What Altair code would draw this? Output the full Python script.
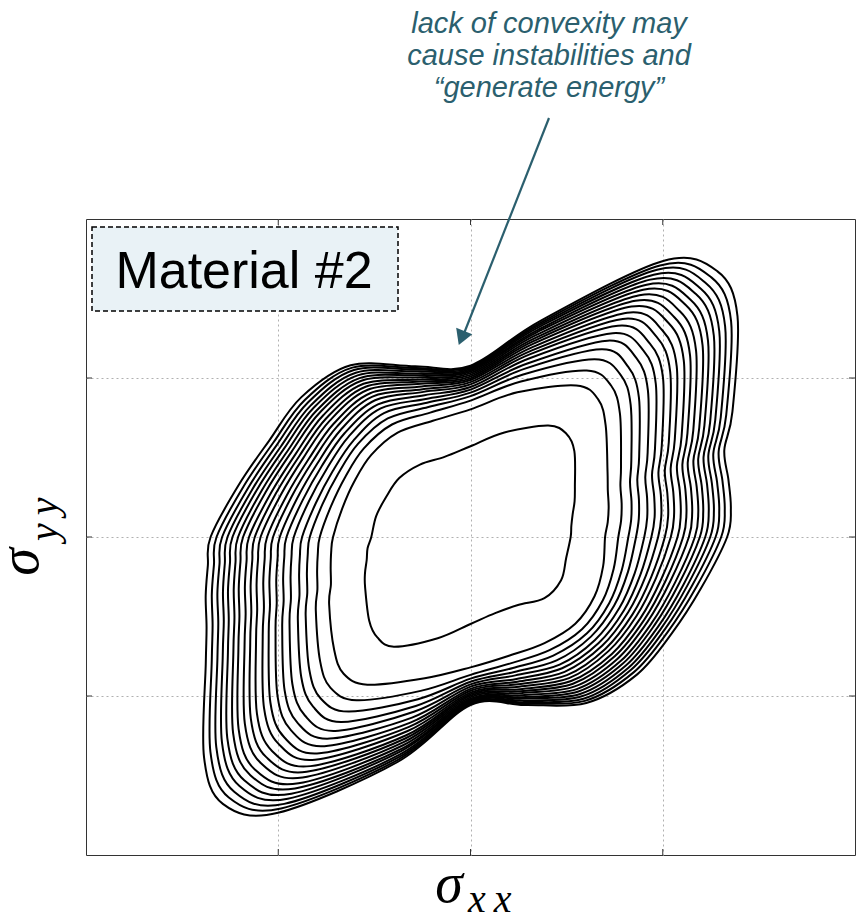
import math
import altair as alt
import pandas as pd

# Directions (degrees, in sigma_xx / sigma_yy space) along which the yield contours were sampled
ANGLES = [0, 7.5, 15, 22.5, 30, 45, 52.5, 60, 75, 90, 105, 120, 135, 150, 165,
          180, 187.5, 195, 202.5, 210, 225, 232.5, 240, 255, 270, 285, 300, 315, 330, 345]

# Radius of each of the 20 contour levels (innermost -> outermost) along each direction
R_0 = [0.521, 0.700, 0.769, 0.821, 0.861, 0.904, 0.941, 0.976, 1.011, 1.042, 1.077, 1.106, 1.136, 1.167, 1.193, 1.221, 1.247, 1.275, 1.304, 1.335]
R_7 = [0.529, 0.720, 0.790, 0.843, 0.883, 0.927, 0.966, 1.001, 1.037, 1.068, 1.103, 1.133, 1.163, 1.195, 1.221, 1.250, 1.277, 1.305, 1.334, 1.366]
R_15 = [0.550, 0.744, 0.814, 0.867, 0.907, 0.951, 0.989, 1.025, 1.060, 1.092, 1.127, 1.157, 1.187, 1.218, 1.245, 1.274, 1.300, 1.328, 1.357, 1.389]
R_22 = [0.586, 0.773, 0.844, 0.898, 0.939, 0.984, 1.022, 1.058, 1.094, 1.127, 1.162, 1.193, 1.223, 1.255, 1.282, 1.312, 1.339, 1.367, 1.397, 1.429]
R_30 = [0.627, 0.823, 0.904, 0.966, 1.013, 1.064, 1.108, 1.149, 1.191, 1.227, 1.268, 1.303, 1.338, 1.374, 1.405, 1.439, 1.470, 1.503, 1.536, 1.573]
R_45 = [0.764, 0.994, 1.099, 1.178, 1.239, 1.305, 1.363, 1.416, 1.469, 1.517, 1.569, 1.615, 1.659, 1.707, 1.747, 1.790, 1.830, 1.873, 1.917, 1.964]
R_52 = [0.819, 1.091, 1.201, 1.284, 1.348, 1.418, 1.478, 1.533, 1.589, 1.639, 1.694, 1.742, 1.789, 1.839, 1.880, 1.926, 1.968, 2.012, 2.058, 2.108]
R_60 = [0.809, 1.101, 1.209, 1.291, 1.363, 1.426, 1.480, 1.534, 1.584, 1.629, 1.674, 1.715, 1.756, 1.796, 1.832, 1.869, 1.905, 1.941, 1.972, 2.004]
R_75 = [0.681, 0.942, 1.012, 1.058, 1.096, 1.128, 1.161, 1.189, 1.212, 1.235, 1.258, 1.277, 1.295, 1.314, 1.333, 1.347, 1.365, 1.379, 1.393, 1.407]
R_90 = [0.571, 0.803, 0.858, 0.886, 0.908, 0.927, 0.943, 0.960, 0.974, 0.987, 0.998, 1.009, 1.020, 1.031, 1.040, 1.048, 1.056, 1.064, 1.071, 1.078]
R_105 = [0.522, 0.757, 0.810, 0.846, 0.874, 0.899, 0.923, 0.945, 0.962, 0.980, 0.998, 1.012, 1.026, 1.040, 1.054, 1.065, 1.079, 1.090, 1.100, 1.111]
R_120 = [0.526, 0.758, 0.817, 0.861, 0.900, 0.934, 0.963, 0.993, 1.020, 1.044, 1.069, 1.091, 1.113, 1.135, 1.154, 1.174, 1.193, 1.213, 1.230, 1.247]
R_135 = [0.524, 0.730, 0.786, 0.828, 0.860, 0.895, 0.925, 0.954, 0.982, 1.007, 1.035, 1.059, 1.083, 1.108, 1.129, 1.152, 1.173, 1.196, 1.219, 1.244]
R_150 = [0.506, 0.698, 0.753, 0.795, 0.828, 0.862, 0.893, 0.921, 0.949, 0.974, 1.002, 1.026, 1.049, 1.074, 1.095, 1.118, 1.139, 1.162, 1.185, 1.210]
R_165 = [0.508, 0.691, 0.751, 0.797, 0.832, 0.870, 0.903, 0.934, 0.965, 0.992, 1.022, 1.049, 1.074, 1.102, 1.125, 1.150, 1.173, 1.197, 1.223, 1.250]
R_180 = [0.516, 0.715, 0.784, 0.836, 0.876, 0.919, 0.957, 0.992, 1.027, 1.058, 1.092, 1.122, 1.152, 1.183, 1.209, 1.238, 1.264, 1.292, 1.321, 1.352]
R_187 = [0.540, 0.731, 0.801, 0.854, 0.895, 0.939, 0.977, 1.012, 1.048, 1.080, 1.115, 1.145, 1.175, 1.207, 1.233, 1.262, 1.289, 1.317, 1.346, 1.378]
R_195 = [0.559, 0.753, 0.826, 0.881, 0.923, 0.969, 1.009, 1.046, 1.083, 1.116, 1.152, 1.184, 1.215, 1.248, 1.275, 1.306, 1.333, 1.363, 1.393, 1.426]
R_202 = [0.594, 0.786, 0.862, 0.919, 0.963, 1.011, 1.052, 1.091, 1.129, 1.163, 1.201, 1.234, 1.266, 1.301, 1.329, 1.361, 1.389, 1.420, 1.452, 1.486]
R_210 = [0.633, 0.849, 0.929, 0.990, 1.037, 1.087, 1.131, 1.171, 1.212, 1.248, 1.288, 1.323, 1.357, 1.394, 1.424, 1.457, 1.488, 1.520, 1.554, 1.590]
R_225 = [0.745, 1.003, 1.106, 1.185, 1.245, 1.310, 1.367, 1.419, 1.472, 1.519, 1.571, 1.616, 1.660, 1.706, 1.746, 1.789, 1.828, 1.870, 1.913, 1.960]
R_232 = [0.796, 1.084, 1.196, 1.280, 1.345, 1.415, 1.476, 1.533, 1.590, 1.640, 1.696, 1.745, 1.792, 1.843, 1.885, 1.931, 1.974, 2.019, 2.065, 2.116]
R_240 = [0.797, 1.073, 1.185, 1.268, 1.343, 1.408, 1.464, 1.519, 1.571, 1.617, 1.664, 1.705, 1.747, 1.789, 1.826, 1.864, 1.901, 1.938, 1.971, 2.003]
R_255 = [0.659, 0.920, 1.002, 1.056, 1.100, 1.138, 1.176, 1.209, 1.236, 1.263, 1.291, 1.312, 1.334, 1.356, 1.378, 1.394, 1.416, 1.432, 1.449, 1.465]
R_270 = [0.547, 0.820, 0.867, 0.891, 0.910, 0.927, 0.941, 0.955, 0.967, 0.979, 0.988, 0.998, 1.007, 1.017, 1.024, 1.031, 1.038, 1.045, 1.051, 1.057]
R_285 = [0.496, 0.773, 0.821, 0.853, 0.879, 0.901, 0.924, 0.943, 0.959, 0.975, 0.991, 1.004, 1.017, 1.030, 1.043, 1.052, 1.065, 1.075, 1.084, 1.094]
R_300 = [0.494, 0.770, 0.822, 0.861, 0.896, 0.927, 0.953, 0.979, 1.003, 1.025, 1.046, 1.066, 1.085, 1.105, 1.122, 1.140, 1.157, 1.175, 1.190, 1.205]
R_315 = [0.544, 0.771, 0.820, 0.857, 0.886, 0.916, 0.943, 0.968, 0.993, 1.015, 1.040, 1.061, 1.082, 1.104, 1.123, 1.143, 1.162, 1.181, 1.202, 1.224]
R_330 = [0.544, 0.745, 0.795, 0.833, 0.863, 0.894, 0.922, 0.947, 0.973, 0.996, 1.021, 1.043, 1.064, 1.087, 1.106, 1.127, 1.146, 1.166, 1.187, 1.210]
R_345 = [0.515, 0.714, 0.771, 0.814, 0.848, 0.884, 0.915, 0.944, 0.973, 0.999, 1.027, 1.052, 1.076, 1.102, 1.124, 1.148, 1.169, 1.192, 1.216, 1.242]

RADII = [R_0, R_7, R_15, R_22, R_30, R_45, R_52, R_60, R_75, R_90, R_105, R_120, R_135, R_150, R_165,
         R_180, R_187, R_195, R_202, R_210, R_225, R_232, R_240, R_255, R_270, R_285, R_300, R_315, R_330, R_345]

GRID = [-1, 0, 1]
NOTE = ["lack of convexity may", "cause instabilities and", "\u201cgenerate energy\u201d"]
LABEL = "Material #2"
TEAL = "#2b5f6e"

rows = []
for seq, (ang, radii) in enumerate(zip(ANGLES, RADII)):
    a = math.radians(ang)
    for level, r in enumerate(radii):
        rows.append({"level": level, "seq": seq, "sxx": r * math.cos(a), "syy": r * math.sin(a)})
df = pd.DataFrame(rows)
ticks = pd.DataFrame({"t": GRID})

xs = alt.Scale(domain=[-2, 2], nice=False, zero=False)
ys = alt.Scale(domain=[-2, 2], nice=False, zero=False)


def grid_axis():
    return alt.Axis(values=GRID, grid=True, gridDash=[2, 3], gridColor="#b0b0b0", gridWidth=1,
                    labels=False, ticks=False, domain=False, title=None)


contours = alt.Chart(df).mark_line(interpolate="cardinal-closed", color="black", strokeWidth=2).encode(
    x=alt.X("sxx:Q", scale=xs, axis=grid_axis()),
    y=alt.Y("syy:Q", scale=ys, axis=grid_axis()),
    detail="level:N",
    order="seq:Q",
)

# inward tick marks on all four sides of the frame
tick_style = dict(color="#333333", strokeWidth=1)
t_bottom = alt.Chart(ticks).mark_rule(**tick_style).encode(x=alt.X("t:Q", scale=xs), y=alt.value(636), y2=alt.value(630))
t_top = alt.Chart(ticks).mark_rule(**tick_style).encode(x=alt.X("t:Q", scale=xs), y=alt.value(0), y2=alt.value(6))
t_left = alt.Chart(ticks).mark_rule(**tick_style).encode(y=alt.Y("t:Q", scale=ys), x=alt.value(0), x2=alt.value(6))
t_right = alt.Chart(ticks).mark_rule(**tick_style).encode(y=alt.Y("t:Q", scale=ys), x=alt.value(769), x2=alt.value(763))

one = pd.DataFrame({"a": [0]})
box = alt.Chart(one).mark_rect(fill="#e9f2f6", stroke="black", strokeDash=[5, 3], strokeWidth=1.5).encode(
    x=alt.value(6), x2=alt.value(312), y=alt.value(8), y2=alt.value(92))
box_text = alt.Chart(one).mark_text(text=LABEL, font="Liberation Sans", fontSize=52,
                                    align="center", baseline="alphabetic", color="black").encode(
    x=alt.value(158), y=alt.value(69))

note = alt.Chart(one).mark_text(text=NOTE, font="Liberation Sans", fontStyle="italic", fontSize=29,
                                lineHeight=32, align="center", baseline="alphabetic", color=TEAL).encode(
    x=alt.value(463), y=alt.value(33 - 219))
arrow = alt.Chart(one).mark_rule(color=TEAL, strokeWidth=2.2).encode(
    x=alt.value(463), y=alt.value(118 - 219), x2=alt.value(377), y2=alt.value(336 - 219))
head = alt.Chart(one).mark_point(shape="triangle-up", filled=True, color=TEAL, size=300, angle=201.4,
                                 opacity=1).encode(x=alt.value(375.5), y=alt.value(338 - 219))

serif = dict(font="Liberation Serif", fontStyle="italic", color="black", baseline="alphabetic")
sx = alt.Chart(one).mark_text(text="\u03c3", fontSize=56, align="center", **serif).encode(
    x=alt.value(449 - 86), y=alt.value(902 - 219))
sx_sub = alt.Chart(one).mark_text(text="x\u2009x", fontSize=40, align="left", **serif).encode(
    x=alt.value(468 - 86), y=alt.value(912 - 219))
sy = alt.Chart(one).mark_text(text="\u03c3", fontSize=56, angle=270, align="center", **serif).encode(
    x=alt.value(38 - 86), y=alt.value(562 - 219))
sy_sub = alt.Chart(one).mark_text(text="y\u2009y", fontSize=40, angle=270, align="left", **serif).encode(
    x=alt.value(57 - 86), y=alt.value(541 - 219))

chart = alt.layer(contours, t_bottom, t_top, t_left, t_right, box, box_text, arrow, head, note,
                  sx, sx_sub, sy, sy_sub).properties(
    width=769, height=636,
    autosize=alt.AutoSizeParams(type="none"),
    padding={"left": 86, "top": 219, "right": 2, "bottom": 66},
).configure_view(stroke="#333333", strokeWidth=1)

chart.save("out.html", embed_options={"renderer": "svg", "actions": False})
